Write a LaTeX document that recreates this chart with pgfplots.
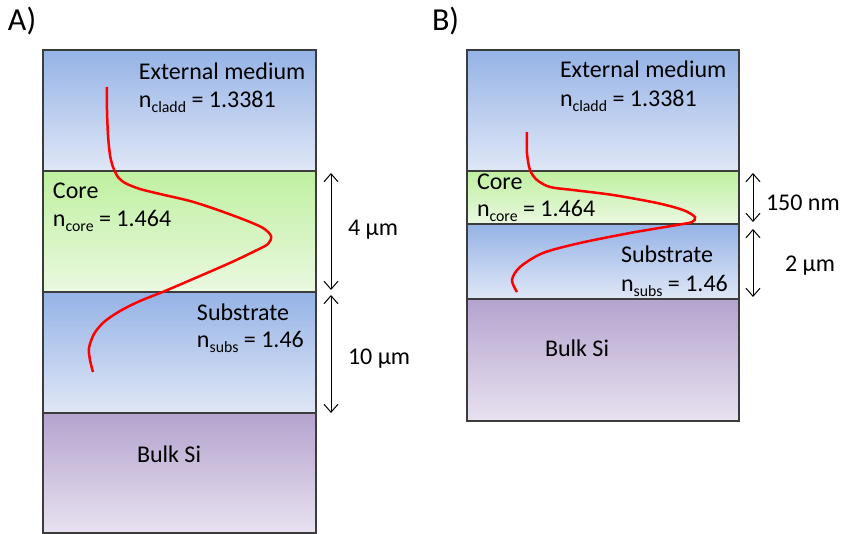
\documentclass[border=0pt]{standalone}
\usepackage{pgfplots}
\pgfplotsset{compat=1.18}
\usepackage{fontspec}
\setmainfont{Carlito}
\usetikzlibrary{arrows.meta}
\definecolor{bluetop}{RGB}{149,179,230}
\definecolor{bluebot}{RGB}{224,231,246}
\definecolor{greentop}{RGB}{191,240,160}
\definecolor{greenbot}{RGB}{234,248,224}
\definecolor{purtop}{RGB}{180,163,206}
\definecolor{purbot}{RGB}{232,226,240}
\definecolor{edge}{RGB}{60,60,60}
\newcommand{\sub}[1]{\raisebox{-2.3pt}{\fontsize{7.9}{9}\selectfont #1}}
\tikzset{lbl/.style={anchor=base west, inner sep=0pt, outer sep=0pt, font=\fontsize{12}{14}\selectfont}}
\begin{document}
\begin{tikzpicture}
\begin{axis}[
  scale only axis, width=421.5pt, height=267pt,
  xmin=0, xmax=843, ymin=0, ymax=534, y dir=reverse,
  hide axis, clip=false,
]
\path (axis cs:0,0) rectangle (axis cs:843,534);
% ---------- Panel A layers
\addplot[draw=edge, line width=0.75pt, top color=bluetop, bottom color=bluebot] coordinates {(43,50) (316,50) (316,171) (43,171)} -- cycle;
\addplot[draw=edge, line width=0.75pt, top color=greentop, bottom color=greenbot] coordinates {(43,171) (316,171) (316,292) (43,292)} -- cycle;
\addplot[draw=edge, line width=0.75pt, top color=bluetop, bottom color=bluebot] coordinates {(43,292) (316,292) (316,413) (43,413)} -- cycle;
\addplot[draw=edge, line width=0.75pt, top color=purtop, bottom color=purbot] coordinates {(43,413) (316,413) (316,533) (43,533)} -- cycle;
% ---------- Panel B layers
\addplot[draw=edge, line width=0.75pt, top color=bluetop, bottom color=bluebot] coordinates {(467,50) (739,50) (739,171) (467,171)} -- cycle;
\addplot[draw=edge, line width=0.75pt, top color=greentop, bottom color=greenbot] coordinates {(467,171) (739,171) (739,224) (467,224)} -- cycle;
\addplot[draw=edge, line width=0.75pt, top color=bluetop, bottom color=bluebot] coordinates {(467,224) (739,224) (739,299) (467,299)} -- cycle;
\addplot[draw=edge, line width=0.75pt, top color=purtop, bottom color=purbot] coordinates {(467,299) (739,299) (739,421) (467,421)} -- cycle;
% ---------- mode profiles
\addplot[red, line width=1.25pt, smooth, tension=0.5] coordinates {
 (107,87) (107,110) (108,135) (110,155) (113,167) (118,177) (125,183) (140,189)
 (160,194) (190,201) (215,209) (245,220) (263,228) (271,236) (268,244) (255,251)
 (232,262) (200,276) (165,291) (140,301) (120,311) (104,322) (94,334) (89,348)
 (90,360) (93,372)};
\addplot[red, line width=1.25pt, smooth, tension=0.5] coordinates {
 (527,132) (527,153) (530,170) (537,180) (550,187) (573,190) (613,195) (657,203)
 (683,210) (695,217) (692,222) (677,225) (630,233) (580,243) (543,253) (520,267)
 (512,280) (517,292)};
% ---------- dimension arrows
\addplot[black, line width=0.5pt, {Straight Barb[length=4pt,width=7pt]}-{Straight Barb[length=4pt,width=7pt]}] coordinates {(331,173) (331,290)};
\addplot[black, line width=0.5pt, {Straight Barb[length=4pt,width=7pt]}-{Straight Barb[length=4pt,width=7pt]}] coordinates {(331,295) (331,413)};
\addplot[black, line width=0.5pt, {Straight Barb[length=4pt,width=7pt]}-{Straight Barb[length=4pt,width=7pt]}] coordinates {(753,173) (753,222)};
\addplot[black, line width=0.5pt, {Straight Barb[length=4pt,width=7pt]}-{Straight Barb[length=4pt,width=7pt]}] coordinates {(753,229) (753,297)};
% ---------- texts A
\node[lbl, font=\fontsize{16}{18}\selectfont] at (axis cs:8,31) {A)};
\node[lbl] at (axis cs:139,80) {External medium};
\node[lbl] at (axis cs:139,108) {n\sub{cladd} = 1.3381};
\node[lbl] at (axis cs:53,199) {Core};
\node[lbl] at (axis cs:53,227) {n\sub{core} = 1.464};
\node[lbl] at (axis cs:197,321) {Substrate};
\node[lbl] at (axis cs:197,348) {n\sub{subs} = 1.46};
\node[lbl] at (axis cs:137,463) {Bulk Si};
\node[lbl] at (axis cs:348,236) {4 µm};
\node[lbl] at (axis cs:348,365) {10 µm};
% ---------- texts B
\node[lbl, font=\fontsize{16}{18}\selectfont] at (axis cs:432,31) {B)};
\node[lbl] at (axis cs:560,78) {External medium};
\node[lbl] at (axis cs:560,107) {n\sub{cladd} = 1.3381};
\node[lbl] at (axis cs:477,190) {Core};
\node[lbl] at (axis cs:477,217) {n\sub{core} = 1.464};
\node[lbl] at (axis cs:621,263) {Substrate};
\node[lbl] at (axis cs:621,292) {n\sub{subs} = 1.46};
\node[lbl] at (axis cs:545,357) {Bulk Si};
\node[lbl] at (axis cs:766,211) {150 nm};
\node[lbl] at (axis cs:785,272) {2 µm};
\end{axis}
\end{tikzpicture}
\end{document}
